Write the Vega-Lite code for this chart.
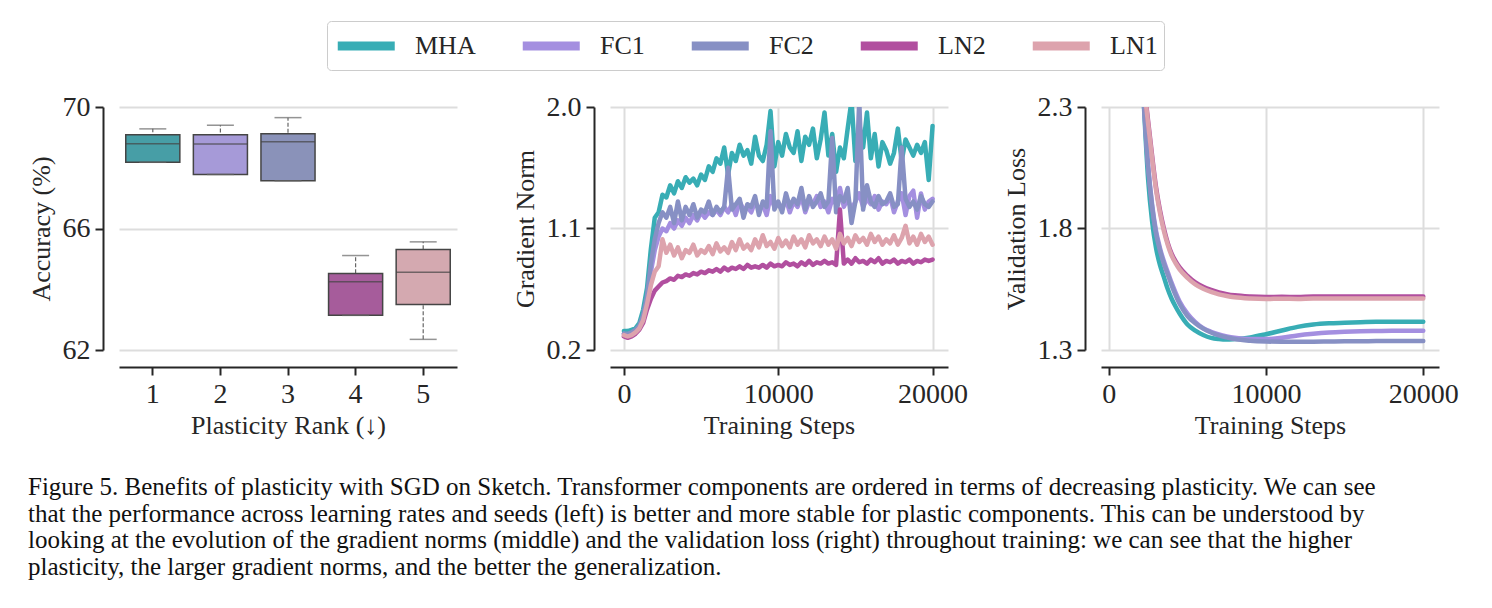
{
 "$schema": "https://vega.github.io/schema/vega-lite/v6.json",
 "padding": {"left": 28, "top": 20, "right": 10, "bottom": 10},
 "autosize": {"type": "pad"},
 "background": "white",
 "datasets": {
  "boxes": [
   {"rank": "1", "component": "MHA", "lo": 68.18, "q1": 68.18, "med": 68.79, "q3": 69.09, "hi": 69.28},
   {"rank": "2", "component": "FC1", "lo": 67.78, "q1": 67.78, "med": 68.78, "q3": 69.09, "hi": 69.40},
   {"rank": "3", "component": "FC2", "lo": 67.57, "q1": 67.57, "med": 68.86, "q3": 69.12, "hi": 69.65},
   {"rank": "4", "component": "LN2", "lo": 63.14, "q1": 63.14, "med": 64.25, "q3": 64.52, "hi": 65.11},
   {"rank": "5", "component": "LN1", "lo": 62.35, "q1": 63.50, "med": 64.56, "q3": 65.31, "hi": 65.56}
  ],
  "grad": [
   {"step": 0, "MHA": 0.34, "FC1": 0.32, "FC2": 0.32, "LN2": 0.30, "LN1": 0.31},
   {"step": 250, "MHA": 0.34, "FC1": 0.31, "FC2": 0.32, "LN2": 0.29, "LN1": 0.30},
   {"step": 500, "MHA": 0.35, "FC1": 0.32, "FC2": 0.33, "LN2": 0.30, "LN1": 0.31},
   {"step": 750, "MHA": 0.36, "FC1": 0.34, "FC2": 0.35, "LN2": 0.32, "LN1": 0.33},
   {"step": 1000, "MHA": 0.40, "FC1": 0.37, "FC2": 0.38, "LN2": 0.35, "LN1": 0.36},
   {"step": 1250, "MHA": 0.50, "FC1": 0.44, "FC2": 0.46, "LN2": 0.40, "LN1": 0.42},
   {"step": 1500, "MHA": 0.66, "FC1": 0.56, "FC2": 0.60, "LN2": 0.50, "LN1": 0.54},
   {"step": 1750, "MHA": 0.95, "FC1": 0.78, "FC2": 0.84, "LN2": 0.58, "LN1": 0.68},
   {"step": 2000, "MHA": 1.18, "FC1": 0.94, "FC2": 1.02, "LN2": 0.64, "LN1": 0.78},
   {"step": 2250, "MHA": 1.22, "FC1": 1.04, "FC2": 1.14, "LN2": 0.67, "LN1": 0.82},
   {"step": 2500, "MHA": 1.35, "FC1": 1.10, "FC2": 1.22, "LN2": 0.70, "LN1": 1.02},
   {"step": 2750, "MHA": 1.33, "FC1": 1.08, "FC2": 1.18, "LN2": 0.71, "LN1": 0.92},
   {"step": 3000, "MHA": 1.42, "FC1": 1.14, "FC2": 1.26, "LN2": 0.73, "LN1": 0.98},
   {"step": 3250, "MHA": 1.36, "FC1": 1.10, "FC2": 1.14, "LN2": 0.72, "LN1": 0.90},
   {"step": 3500, "MHA": 1.45, "FC1": 1.16, "FC2": 1.30, "LN2": 0.75, "LN1": 0.96},
   {"step": 3750, "MHA": 1.40, "FC1": 1.12, "FC2": 1.16, "LN2": 0.74, "LN1": 0.88},
   {"step": 4000, "MHA": 1.48, "FC1": 1.18, "FC2": 1.26, "LN2": 0.76, "LN1": 0.94},
   {"step": 4250, "MHA": 1.44, "FC1": 1.14, "FC2": 1.20, "LN2": 0.75, "LN1": 0.92},
   {"step": 4500, "MHA": 1.47, "FC1": 1.20, "FC2": 1.28, "LN2": 0.77, "LN1": 0.98},
   {"step": 4750, "MHA": 1.42, "FC1": 1.16, "FC2": 1.18, "LN2": 0.76, "LN1": 0.90},
   {"step": 5000, "MHA": 1.50, "FC1": 1.22, "FC2": 1.24, "LN2": 0.78, "LN1": 0.94},
   {"step": 5250, "MHA": 1.46, "FC1": 1.18, "FC2": 1.22, "LN2": 0.77, "LN1": 0.92},
   {"step": 5500, "MHA": 1.56, "FC1": 1.22, "FC2": 1.30, "LN2": 0.79, "LN1": 0.97},
   {"step": 5750, "MHA": 1.52, "FC1": 1.20, "FC2": 1.20, "LN2": 0.78, "LN1": 0.91},
   {"step": 6000, "MHA": 1.62, "FC1": 1.24, "FC2": 1.26, "LN2": 0.80, "LN1": 0.99},
   {"step": 6250, "MHA": 1.58, "FC1": 1.20, "FC2": 1.22, "LN2": 0.78, "LN1": 0.93},
   {"step": 6500, "MHA": 1.70, "FC1": 1.26, "FC2": 1.26, "LN2": 0.81, "LN1": 0.96},
   {"step": 6750, "MHA": 1.50, "FC1": 1.22, "FC2": 1.55, "LN2": 0.79, "LN1": 0.92},
   {"step": 7000, "MHA": 1.66, "FC1": 1.28, "FC2": 1.24, "LN2": 0.81, "LN1": 1.00},
   {"step": 7250, "MHA": 1.60, "FC1": 1.20, "FC2": 1.28, "LN2": 0.80, "LN1": 0.94},
   {"step": 7500, "MHA": 1.72, "FC1": 1.30, "FC2": 1.32, "LN2": 0.82, "LN1": 1.02},
   {"step": 7750, "MHA": 1.64, "FC1": 1.24, "FC2": 1.18, "LN2": 0.80, "LN1": 0.95},
   {"step": 8000, "MHA": 1.68, "FC1": 1.26, "FC2": 1.28, "LN2": 0.83, "LN1": 0.98},
   {"step": 8250, "MHA": 1.58, "FC1": 1.22, "FC2": 1.26, "LN2": 0.81, "LN1": 0.94},
   {"step": 8500, "MHA": 1.78, "FC1": 1.30, "FC2": 1.34, "LN2": 0.82, "LN1": 1.02},
   {"step": 8750, "MHA": 1.64, "FC1": 1.24, "FC2": 1.20, "LN2": 0.81, "LN1": 0.96},
   {"step": 9000, "MHA": 1.60, "FC1": 1.28, "FC2": 1.30, "LN2": 0.83, "LN1": 1.05},
   {"step": 9250, "MHA": 1.72, "FC1": 1.20, "FC2": 1.26, "LN2": 0.81, "LN1": 0.97},
   {"step": 9500, "MHA": 1.97, "FC1": 1.34, "FC2": 1.82, "LN2": 0.84, "LN1": 1.00},
   {"step": 9750, "MHA": 1.56, "FC1": 1.26, "FC2": 1.24, "LN2": 0.82, "LN1": 0.95},
   {"step": 10000, "MHA": 1.74, "FC1": 1.28, "FC2": 1.30, "LN2": 0.83, "LN1": 1.03},
   {"step": 10250, "MHA": 1.64, "FC1": 1.24, "FC2": 1.22, "LN2": 0.82, "LN1": 0.97},
   {"step": 10500, "MHA": 1.80, "FC1": 1.32, "FC2": 1.36, "LN2": 0.85, "LN1": 1.01},
   {"step": 10750, "MHA": 1.70, "FC1": 1.22, "FC2": 1.26, "LN2": 0.83, "LN1": 0.96},
   {"step": 11000, "MHA": 1.66, "FC1": 1.30, "FC2": 1.32, "LN2": 0.84, "LN1": 1.04},
   {"step": 11250, "MHA": 1.82, "FC1": 1.26, "FC2": 1.28, "LN2": 0.82, "LN1": 0.98},
   {"step": 11500, "MHA": 1.60, "FC1": 1.34, "FC2": 1.40, "LN2": 0.85, "LN1": 1.02},
   {"step": 11750, "MHA": 1.78, "FC1": 1.22, "FC2": 1.24, "LN2": 0.83, "LN1": 0.96},
   {"step": 12000, "MHA": 1.72, "FC1": 1.30, "FC2": 1.34, "LN2": 0.86, "LN1": 1.05},
   {"step": 12250, "MHA": 1.84, "FC1": 1.28, "FC2": 1.26, "LN2": 0.83, "LN1": 0.99},
   {"step": 12500, "MHA": 1.62, "FC1": 1.34, "FC2": 1.30, "LN2": 0.85, "LN1": 1.02},
   {"step": 12750, "MHA": 1.76, "FC1": 1.26, "FC2": 1.36, "LN2": 0.84, "LN1": 0.97},
   {"step": 13000, "MHA": 1.96, "FC1": 1.30, "FC2": 1.26, "LN2": 0.86, "LN1": 1.04},
   {"step": 13250, "MHA": 1.64, "FC1": 1.22, "FC2": 1.30, "LN2": 0.84, "LN1": 0.98},
   {"step": 13500, "MHA": 1.80, "FC1": 1.32, "FC2": 1.77, "LN2": 0.85, "LN1": 1.02},
   {"step": 13750, "MHA": 1.52, "FC1": 1.28, "FC2": 1.22, "LN2": 0.83, "LN1": 0.95},
   {"step": 14000, "MHA": 1.70, "FC1": 1.40, "FC2": 1.34, "LN2": 1.24, "LN1": 1.06},
   {"step": 14250, "MHA": 1.62, "FC1": 1.26, "FC2": 1.30, "LN2": 0.84, "LN1": 0.99},
   {"step": 14500, "MHA": 1.84, "FC1": 1.32, "FC2": 1.40, "LN2": 0.87, "LN1": 1.03},
   {"step": 14750, "MHA": 2.05, "FC1": 1.24, "FC2": 1.14, "LN2": 0.84, "LN1": 0.97},
   {"step": 15000, "MHA": 1.60, "FC1": 1.30, "FC2": 1.30, "LN2": 0.88, "LN1": 1.05},
   {"step": 15250, "MHA": 1.88, "FC1": 1.36, "FC2": 2.05, "LN2": 0.85, "LN1": 1.00},
   {"step": 15500, "MHA": 1.70, "FC1": 1.26, "FC2": 1.24, "LN2": 0.86, "LN1": 1.03},
   {"step": 15750, "MHA": 1.96, "FC1": 1.32, "FC2": 1.42, "LN2": 0.84, "LN1": 0.98},
   {"step": 16000, "MHA": 1.62, "FC1": 1.28, "FC2": 1.30, "LN2": 0.87, "LN1": 1.06},
   {"step": 16250, "MHA": 1.80, "FC1": 1.34, "FC2": 1.26, "LN2": 0.85, "LN1": 1.00},
   {"step": 16500, "MHA": 1.56, "FC1": 1.24, "FC2": 1.34, "LN2": 0.88, "LN1": 1.04},
   {"step": 16750, "MHA": 1.74, "FC1": 1.30, "FC2": 1.28, "LN2": 0.84, "LN1": 0.98},
   {"step": 17000, "MHA": 1.68, "FC1": 1.28, "FC2": 1.30, "LN2": 0.86, "LN1": 1.02},
   {"step": 17250, "MHA": 1.58, "FC1": 1.34, "FC2": 1.36, "LN2": 0.85, "LN1": 0.99},
   {"step": 17500, "MHA": 1.66, "FC1": 1.22, "FC2": 1.26, "LN2": 0.87, "LN1": 1.05},
   {"step": 17750, "MHA": 1.84, "FC1": 1.30, "FC2": 1.28, "LN2": 0.84, "LN1": 0.98},
   {"step": 18000, "MHA": 1.60, "FC1": 1.36, "FC2": 1.70, "LN2": 0.86, "LN1": 1.03},
   {"step": 18250, "MHA": 1.76, "FC1": 1.20, "FC2": 1.32, "LN2": 0.85, "LN1": 1.12},
   {"step": 18500, "MHA": 1.70, "FC1": 1.34, "FC2": 1.26, "LN2": 0.87, "LN1": 0.99},
   {"step": 18750, "MHA": 1.64, "FC1": 1.38, "FC2": 1.30, "LN2": 0.84, "LN1": 1.04},
   {"step": 19000, "MHA": 1.72, "FC1": 1.18, "FC2": 1.24, "LN2": 0.86, "LN1": 0.98},
   {"step": 19250, "MHA": 1.66, "FC1": 1.36, "FC2": 1.34, "LN2": 0.85, "LN1": 1.06},
   {"step": 19500, "MHA": 1.74, "FC1": 1.24, "FC2": 1.28, "LN2": 0.87, "LN1": 1.00},
   {"step": 19750, "MHA": 1.46, "FC1": 1.30, "FC2": 1.26, "LN2": 0.86, "LN1": 1.04},
   {"step": 20000, "MHA": 1.86, "FC1": 1.32, "FC2": 1.30, "LN2": 0.87, "LN1": 0.98}
  ],
  "val": [
   {"step": 0, "MHA": 5.2, "FC1": 5.2, "FC2": 5.2, "LN2": 5.3, "LN1": 5.3},
   {"step": 1000, "MHA": 3.7, "FC1": 3.7, "FC2": 3.7, "LN2": 3.8, "LN1": 3.8},
   {"step": 1500, "MHA": 3.05, "FC1": 3.06, "FC2": 3.05, "LN2": 3.12, "LN1": 3.11},
   {"step": 2000, "MHA": 2.6, "FC1": 2.61, "FC2": 2.6, "LN2": 2.66, "LN1": 2.65},
   {"step": 2250, "MHA": 2.28, "FC1": 2.3, "FC2": 2.29, "LN2": 2.4, "LN1": 2.39},
   {"step": 2500, "MHA": 2.0, "FC1": 2.06, "FC2": 2.05, "LN2": 2.24, "LN1": 2.23},
   {"step": 2750, "MHA": 1.83, "FC1": 1.9, "FC2": 1.89, "LN2": 2.1, "LN1": 2.09},
   {"step": 3000, "MHA": 1.72, "FC1": 1.79, "FC2": 1.78, "LN2": 1.97, "LN1": 1.96},
   {"step": 3250, "MHA": 1.65, "FC1": 1.72, "FC2": 1.71, "LN2": 1.875, "LN1": 1.865},
   {"step": 3500, "MHA": 1.6, "FC1": 1.665, "FC2": 1.655, "LN2": 1.8, "LN1": 1.79},
   {"step": 3750, "MHA": 1.55, "FC1": 1.62, "FC2": 1.61, "LN2": 1.74, "LN1": 1.732},
   {"step": 4000, "MHA": 1.51, "FC1": 1.575, "FC2": 1.565, "LN2": 1.695, "LN1": 1.687},
   {"step": 4250, "MHA": 1.478, "FC1": 1.535, "FC2": 1.525, "LN2": 1.665, "LN1": 1.657},
   {"step": 4500, "MHA": 1.45, "FC1": 1.5, "FC2": 1.49, "LN2": 1.64, "LN1": 1.632},
   {"step": 5000, "MHA": 1.405, "FC1": 1.45, "FC2": 1.44, "LN2": 1.605, "LN1": 1.597},
   {"step": 5500, "MHA": 1.38, "FC1": 1.415, "FC2": 1.41, "LN2": 1.578, "LN1": 1.57},
   {"step": 6000, "MHA": 1.362, "FC1": 1.39, "FC2": 1.388, "LN2": 1.56, "LN1": 1.552},
   {"step": 6500, "MHA": 1.35, "FC1": 1.375, "FC2": 1.372, "LN2": 1.547, "LN1": 1.539},
   {"step": 7000, "MHA": 1.345, "FC1": 1.364, "FC2": 1.36, "LN2": 1.537, "LN1": 1.529},
   {"step": 7500, "MHA": 1.343, "FC1": 1.356, "FC2": 1.352, "LN2": 1.53, "LN1": 1.522},
   {"step": 8000, "MHA": 1.345, "FC1": 1.35, "FC2": 1.345, "LN2": 1.525, "LN1": 1.517},
   {"step": 9000, "MHA": 1.352, "FC1": 1.345, "FC2": 1.338, "LN2": 1.52, "LN1": 1.512},
   {"step": 10000, "MHA": 1.365, "FC1": 1.345, "FC2": 1.335, "LN2": 1.518, "LN1": 1.51},
   {"step": 11000, "MHA": 1.38, "FC1": 1.35, "FC2": 1.334, "LN2": 1.519, "LN1": 1.511},
   {"step": 12000, "MHA": 1.395, "FC1": 1.36, "FC2": 1.334, "LN2": 1.518, "LN1": 1.51},
   {"step": 13000, "MHA": 1.405, "FC1": 1.367, "FC2": 1.334, "LN2": 1.52, "LN1": 1.512},
   {"step": 14000, "MHA": 1.41, "FC1": 1.372, "FC2": 1.335, "LN2": 1.52, "LN1": 1.512},
   {"step": 15000, "MHA": 1.412, "FC1": 1.375, "FC2": 1.336, "LN2": 1.52, "LN1": 1.512},
   {"step": 16000, "MHA": 1.414, "FC1": 1.377, "FC2": 1.336, "LN2": 1.52, "LN1": 1.512},
   {"step": 17000, "MHA": 1.416, "FC1": 1.378, "FC2": 1.337, "LN2": 1.52, "LN1": 1.512},
   {"step": 18000, "MHA": 1.416, "FC1": 1.379, "FC2": 1.337, "LN2": 1.52, "LN1": 1.512},
   {"step": 19000, "MHA": 1.416, "FC1": 1.379, "FC2": 1.337, "LN2": 1.52, "LN1": 1.512},
   {"step": 20000, "MHA": 1.416, "FC1": 1.379, "FC2": 1.337, "LN2": 1.52, "LN1": 1.512}
  ]
 },
 "title": {
  "text": [
   "Figure 5. Benefits of plasticity with SGD on Sketch. Transformer components are ordered in terms of decreasing plasticity. We can see",
   "that the performance across learning rates and seeds (left) is better and more stable for plastic components. This can be understood by",
   "looking at the evolution of the gradient norms (middle) and the validation loss (right) throughout training: we can see that the higher",
   "plasticity, the larger gradient norms, and the better the generalization."
  ],
  "orient": "bottom", "anchor": "start", "frame": "bounds",
  "font": "Liberation Serif", "fontSize": 25, "fontWeight": "normal", "lineHeight": 26.5, "color": "#111111", "offset": 37
 },
 "bounds": "flush",
 "spacing": 153,
 "resolve": {"scale": {"color": "independent"}, "legend": {"color": "independent"}},
 "hconcat": [
  {
   "width": 338, "height": 243,
   "data": {"name": "boxes"},
   "encoding": {
    "x": {"field": "rank", "type": "ordinal", "title": "Plasticity Rank (↓)",
      "scale": {"paddingInner": 0.2, "paddingOuter": 0.1},
      "axis": {"labelAngle": 0, "grid": false, "offset": 17}}
   },
   "layer": [
    {"mark": {"type": "rule", "color": "#666666", "strokeDash": [4, 2], "strokeWidth": 1.2},
     "encoding": {
      "y": {"field": "lo", "type": "quantitative", "title": "Accuracy (%)", "scale": {"domain": [62, 70], "nice": false},
        "axis": {"values": [62, 66, 70], "offset": 16}},
      "y2": {"field": "hi"}}},
    {"mark": {"type": "bar", "stroke": "#454545", "strokeWidth": 1.5},
     "encoding": {
      "y": {"field": "q1", "type": "quantitative", "title": "Accuracy (%)"},
      "y2": {"field": "q3"},
      "fill": {"field": "component", "type": "nominal",
        "scale": {"domain": ["MHA", "FC1", "FC2", "LN2", "LN1"], "range": ["#479EA6", "#A69AD8", "#8A92B9", "#A65C9B", "#D4A9B0"]},
        "legend": null}}},
    {"mark": {"type": "tick", "color": "#454545", "size": 54, "thickness": 1.5},
     "encoding": {"y": {"field": "med", "type": "quantitative", "title": "Accuracy (%)"}}},
    {"mark": {"type": "tick", "color": "#666666", "size": 27, "thickness": 1.5},
     "encoding": {"y": {"field": "hi", "type": "quantitative", "title": "Accuracy (%)"}}},
    {"mark": {"type": "tick", "color": "#666666", "size": 27, "thickness": 1.5},
     "encoding": {"y": {"field": "lo", "type": "quantitative", "title": "Accuracy (%)"}}}
   ]
  },
  {
   "width": 338, "height": 243,
   "data": {"name": "grad"},
   "transform": [{"fold": ["MHA", "FC1", "FC2", "LN2", "LN1"], "as": ["component", "value"]}],
   "mark": {"type": "line", "strokeWidth": 4.5, "clip": true, "strokeCap": "round", "strokeJoin": "round"},
   "encoding": {
    "x": {"field": "step", "type": "quantitative", "title": "Training Steps",
      "scale": {"domain": [-900, 21000], "nice": false},
      "axis": {"values": [0, 10000, 20000], "format": "d", "offset": 17}},
    "y": {"field": "value", "type": "quantitative", "title": "Gradient Norm",
      "scale": {"domain": [0.2, 2.0], "nice": false, "zero": false},
      "axis": {"values": [0.2, 1.1, 2.0], "format": ".1f", "offset": 16}},
    "color": {"field": "component", "type": "nominal",
      "scale": {"domain": ["MHA", "FC1", "FC2", "LN2", "LN1"], "range": ["#38ADB5", "#A48FE0", "#8790C4", "#B14F9F", "#DDA3AD"]},
      "legend": {"orient": "none", "legendX": -283, "legendY": -86, "direction": "horizontal", "title": null,
        "symbolType": "M-1,0H3", "symbolSize": 812, "symbolStrokeWidth": 9,
        "labelFont": "Liberation Serif", "labelFontSize": 26, "labelColor": "#262626",
        "columnPadding": 28, "labelOffset": 44, "padding": 6,
        "strokeColor": "#cccccc", "fillColor": "white", "cornerRadius": 4}}
   }
  },
  {
   "width": 338, "height": 243,
   "data": {"name": "val"},
   "transform": [{"fold": ["MHA", "FC1", "FC2", "LN2", "LN1"], "as": ["component", "value"]}],
   "mark": {"type": "line", "strokeWidth": 4.5, "clip": true, "strokeCap": "round", "strokeJoin": "round", "interpolate": "monotone"},
   "encoding": {
    "x": {"field": "step", "type": "quantitative", "title": "Training Steps",
      "scale": {"domain": [-500, 21000], "nice": false},
      "axis": {"values": [0, 10000, 20000], "format": "d", "offset": 17}},
    "y": {"field": "value", "type": "quantitative", "title": "Validation Loss",
      "scale": {"domain": [1.3, 2.3], "nice": false, "zero": false},
      "axis": {"values": [1.3, 1.8, 2.3], "format": ".1f", "offset": 16}},
    "color": {"field": "component", "type": "nominal",
      "scale": {"domain": ["MHA", "FC1", "FC2", "LN2", "LN1"], "range": ["#38ADB5", "#A48FE0", "#8790C4", "#B14F9F", "#DDA3AD"]},
      "legend": null}
   }
  }
 ],
 "config": {
  "view": {"stroke": null},
  "font": "Liberation Serif",
  "axis": {
   "labelFont": "Liberation Serif", "labelFontSize": 28, "labelColor": "#262626",
   "titleFont": "Liberation Serif", "titleFontSize": 26, "titleFontWeight": "normal", "titleColor": "#262626",
   "domainColor": "#262626", "domainWidth": 2, "tickColor": "#262626", "tickWidth": 2, "tickSize": 8,
   "gridColor": "#dddddd", "gridWidth": 2, "grid": true, "labelPadding": 5, "titlePadding": 8
  },
  "axisX": {"titlePadding": 4}
 }
}
